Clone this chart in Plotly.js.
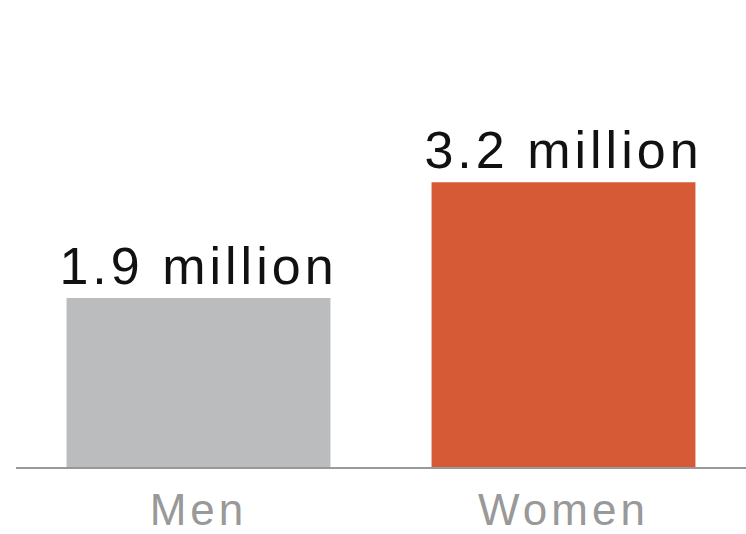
<!DOCTYPE html>
<html><head><meta charset="utf-8">
<script src="https://cdn.plot.ly/plotly-3.0.1.min.js"></script>
<style>
html,body{margin:0;padding:0;background:#fff}
#chart{width:746px;height:534px}
#chart text.bartext{letter-spacing:4px}
#chart .xtick text{letter-spacing:4px}
</style>
</head><body><div id="chart"></div>
<script>
const categories = ["Men", "Women"];
const values = [1.9, 3.2];
const valueLabels = ["1.9 million", "3.2 million"];
const barColors = ["#bbbcbe", "#d55a35"];

Plotly.newPlot("chart", [{
  type: "bar",
  x: categories,
  y: values,
  text: valueLabels,
  textposition: "outside",
  constraintext: "none",
  cliponaxis: false,
  textfont: {family: "Liberation Sans, Arial, sans-serif", size: 52, color: "#111"},
  marker: {color: barColors},
  width: 0.723,
  hoverinfo: "none"
}], {
  width: 746, height: 534,
  margin: {l: 16, r: 0, t: 0, b: 67},
  paper_bgcolor: "#fff", plot_bgcolor: "#fff",
  showlegend: false,
  xaxis: {
    range: [-0.5, 1.5],
    showline: true, linecolor: "#999", linewidth: 2,
    ticks: "", showgrid: false, zeroline: false,
    ticklabelstandoff: 3,
    tickfont: {family: "Liberation Sans, Arial, sans-serif", size: 44, color: "#999"}
  },
  yaxis: {
    range: [0, 5.25],
    visible: false, showgrid: false, zeroline: false
  }
}, {displayModeBar: false, staticPlot: true});
</script></body></html>
